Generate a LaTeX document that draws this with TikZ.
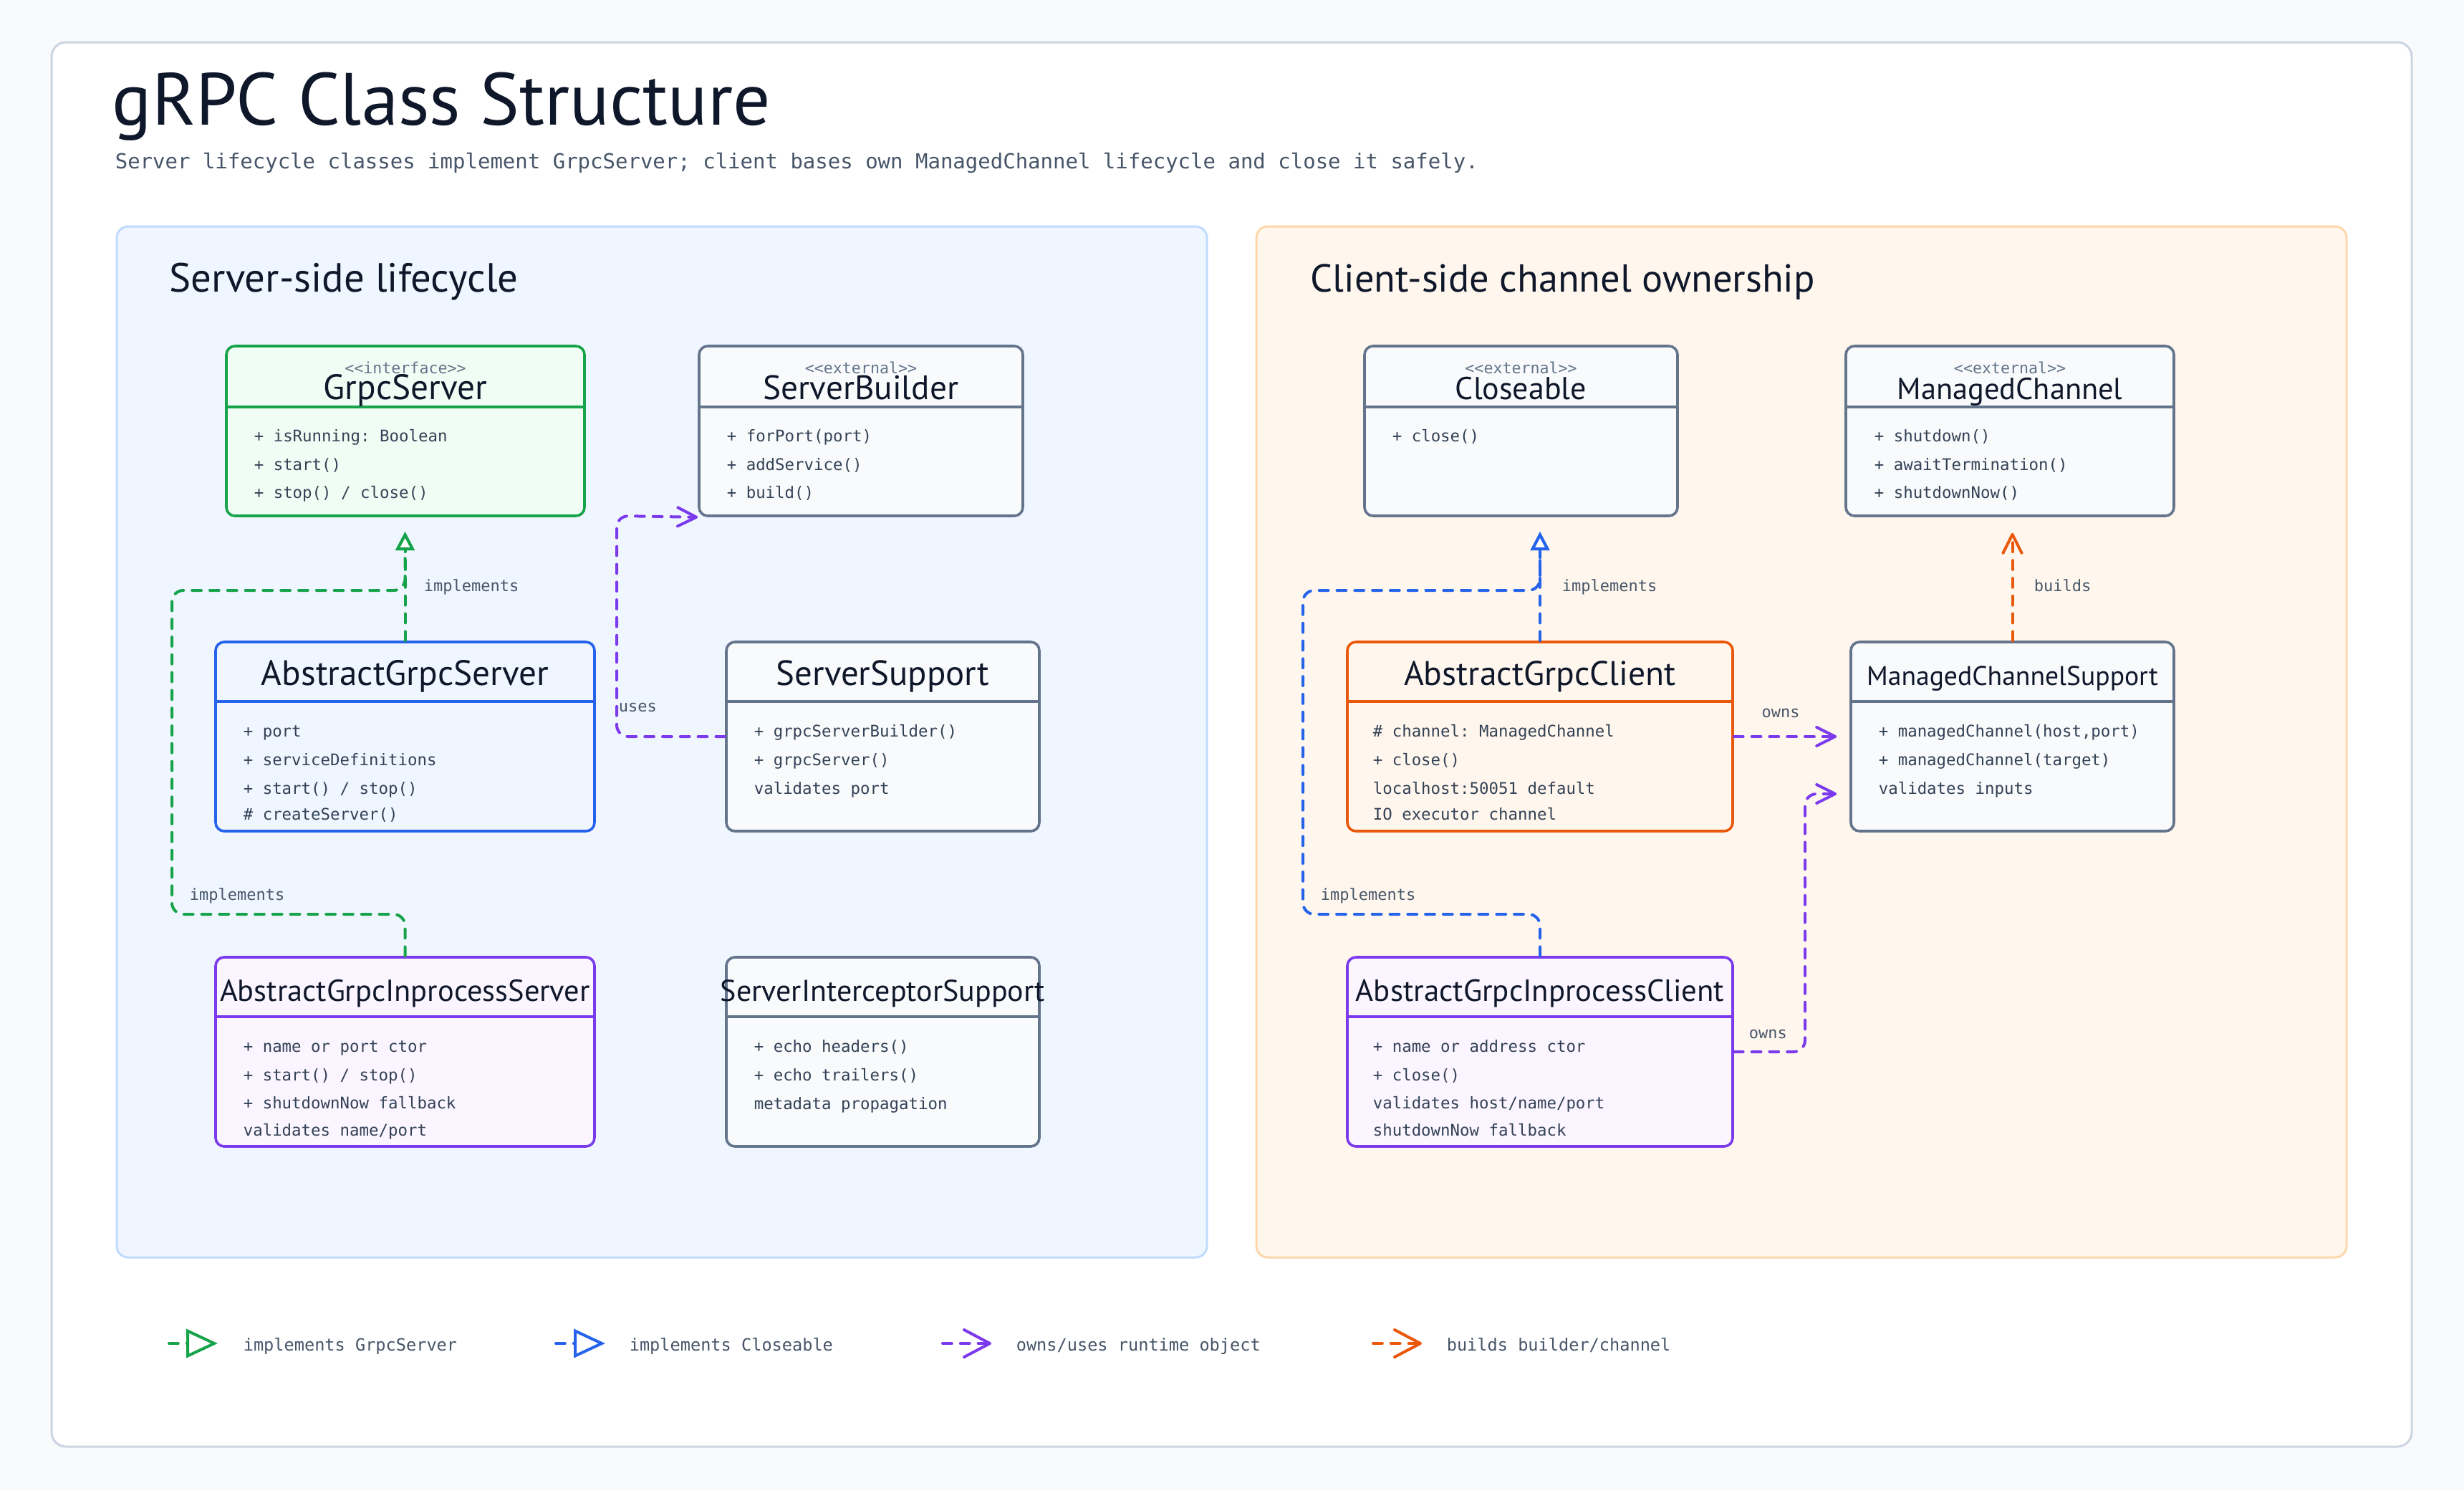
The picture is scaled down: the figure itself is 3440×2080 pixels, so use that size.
\documentclass[tikz,border=0pt]{standalone}
\usepackage{fontspec}
\setmainfont{PT Sans}
\setmonofont{DejaVu Sans Mono}
\usetikzlibrary{arrows.meta,fit}
\definecolor{pagebg}{HTML}{F8FAFC}
\definecolor{cardline}{HTML}{CBD5E1}
\definecolor{ink}{HTML}{0F172A}
\definecolor{memc}{HTML}{334155}
\definecolor{labc}{HTML}{475569}
\definecolor{slate}{HTML}{64748B}
\definecolor{cgreen}{HTML}{16A34A}
\definecolor{fgreen}{HTML}{F0FDF4}
\definecolor{cblue}{HTML}{2563EB}
\definecolor{fblue}{HTML}{EFF6FF}
\definecolor{cpurple}{HTML}{7C3AED}
\definecolor{fpurple}{HTML}{FAF5FF}
\definecolor{corange}{HTML}{EA580C}
\definecolor{forange}{HTML}{FFF7ED}
\definecolor{cgray}{HTML}{64748B}
\definecolor{fgray}{HTML}{F8FAFC}
\definecolor{pbline}{HTML}{BFDBFE}
\definecolor{poline}{HTML}{FED7AA}
\begin{document}
\begin{tikzpicture}[x=0.25pt,y=-0.25pt,
  cls/.style n args={2}{draw=#1, fill=#2, line width=0.9pt, rounded corners=3pt, inner sep=0pt},
  divider/.style={draw=#1, line width=0.9pt},
  clsname/.style={font=\fontsize{#1}{12pt}\selectfont, text=ink, inner sep=0pt, text height=0.7em, text depth=0pt},
  clsname/.default=11.5pt,
  stereo/.style={font=\ttfamily\fontsize{5.4pt}{6.5pt}\selectfont, text=slate, inner sep=0pt, text height=0.7em, text depth=0pt},
  mem/.style={font=\ttfamily\fontsize{5.6pt}{6.6pt}\selectfont, text=memc, inner sep=0pt, text height=0.7em, text depth=0pt, anchor=west},
  lbl/.style={font=\ttfamily\fontsize{5.5pt}{6.5pt}\selectfont, text=labc, inner sep=0pt, text height=0.7em, text depth=0pt, anchor=west},
  legtxt/.style={font=\ttfamily\fontsize{5.9pt}{7pt}\selectfont, text=labc, inner sep=0pt, text height=0.7em, text depth=0pt, anchor=west},
  conn/.style={line width=1pt, dash pattern=on 3.2pt off 3pt, line cap=round, line join=round, rounded corners=4pt},
  impl/.style={conn, draw=#1, -{Triangle[length=6.5pt,width=6.5pt,fill=white]}},
  own/.style={conn, draw=#1, -{Straight Barb[length=6.5pt,width=6.5pt,round]}},
]
% page and card
\fill[pagebg] (0,0) rectangle (3440,2080);
\useasboundingbox (0,0) rectangle (3440,2080);
\node[draw=cardline, fill=white, line width=0.75pt, rounded corners=5pt, inner sep=0pt, fit={(72,59) (3367,2019)}] (card) {};
\node[anchor=base west, inner sep=0pt, font=\fontsize{25.8pt}{29pt}\selectfont, text=ink] (title) at (156,174) {gRPC Class Structure};
\node[anchor=base west, inner sep=0pt, font=\ttfamily\fontsize{7.25pt}{9pt}\selectfont, text=labc] (subtitle) at (160,235) {Server lifecycle classes implement GrpcServer; client bases own ManagedChannel lifecycle and close it safely.};

% panels
\node[draw=pbline, fill=fblue, line width=0.75pt, rounded corners=4pt, inner sep=0pt, fit={(163,316) (1685,1755)}] (pserver) {};
\node[draw=poline, fill=forange, line width=0.75pt, rounded corners=4pt, inner sep=0pt, fit={(1754,316) (3276,1755)}] (pclient) {};
\node[anchor=west, inner sep=0pt, text height=0.7em, text depth=0pt, font=\fontsize{14.2pt}{16pt}\selectfont, text=ink] (pst) at (236,393) {Server-side lifecycle};
\node[anchor=west, inner sep=0pt, text height=0.7em, text depth=0pt, font=\fontsize{13.6pt}{16pt}\selectfont, text=ink] (pct) at (1829,393) {Client-side channel ownership};

% ---------- server side classes ----------
% GrpcServer
\node[cls={cgreen}{fgreen}, fit={(316,483) (816,720)}] (gs) {};
\draw[divider=cgreen] (316,568) -- (816,568);
\node[stereo] (gs-s) at (566,507) {<{}<interface>{}>};
\node[clsname=12.3pt] (gs-n) at (566,543) {GrpcServer};
\node[mem] (gs-m1) at (354,602) {+ isRunning: Boolean};
\node[mem] (gs-m2) at (354,642) {+ start()};
\node[mem] (gs-m3) at (354,681) {+ stop() / close()};

% ServerBuilder
\node[cls={cgray}{fgray}, fit={(976,483) (1428,720)}] (sb) {};
\draw[divider=cgray] (976,568) -- (1428,568);
\node[stereo] (sb-s) at (1202,507) {<{}<external>{}>};
\node[clsname=11.8pt] (sb-n) at (1202,543) {ServerBuilder};
\node[mem] (sb-m1) at (1014,602) {+ forPort(port)};
\node[mem] (sb-m2) at (1014,642) {+ addService()};
\node[mem] (sb-m3) at (1014,681) {+ build()};

% AbstractGrpcServer
\node[cls={cblue}{fblue}, fit={(301,896) (830,1160)}] (ags) {};
\draw[divider=cblue] (301,979) -- (830,979);
\node[clsname=12.3pt] (ags-n) at (565.5,942) {AbstractGrpcServer};
\node[mem] (ags-m1) at (339,1014) {+ port};
\node[mem] (ags-m2) at (339,1054) {+ serviceDefinitions};
\node[mem] (ags-m3) at (339,1094) {+ start() / stop()};
\node[mem] (ags-m4) at (339,1130) {\# createServer()};

% ServerSupport
\node[cls={cgray}{fgray}, fit={(1014,896) (1451,1160)}] (ss) {};
\draw[divider=cgray] (1014,979) -- (1451,979);
\node[clsname=12.2pt] (ss-n) at (1232.5,942) {ServerSupport};
\node[mem] (ss-m1) at (1052,1014) {+ grpcServerBuilder()};
\node[mem] (ss-m2) at (1052,1054) {+ grpcServer()};
\node[mem] (ss-m3) at (1052,1094) {validates port};

% AbstractGrpcInprocessServer
\node[cls={cpurple}{fpurple}, fit={(301,1336) (830,1600)}] (agis) {};
\draw[divider=cpurple] (301,1419) -- (830,1419);
\node[clsname=10.6pt] (agis-n) at (565.5,1383) {AbstractGrpcInprocessServer};
\node[mem] (agis-m1) at (339,1454) {+ name or port ctor};
\node[mem] (agis-m2) at (339,1494) {+ start() / stop()};
\node[mem] (agis-m3) at (339,1533) {+ shutdownNow fallback};
\node[mem] (agis-m4) at (339,1571) {validates name/port};

% ServerInterceptorSupport
\node[cls={cgray}{fgray}, fit={(1014,1336) (1451,1600)}] (sis) {};
\draw[divider=cgray] (1014,1419) -- (1451,1419);
\node[clsname=10.5pt] (sis-n) at (1232.5,1383) {ServerInterceptorSupport};
\node[mem] (sis-m1) at (1052,1454) {+ echo headers()};
\node[mem] (sis-m2) at (1052,1494) {+ echo trailers()};
\node[mem] (sis-m3) at (1052,1534) {metadata propagation};

% ---------- client side classes ----------
% Closeable
\node[cls={cgray}{fgray}, fit={(1905,483) (2342,720)}] (cl) {};
\draw[divider=cgray] (1905,568) -- (2342,568);
\node[stereo] (cl-s) at (2123.5,507) {<{}<external>{}>};
\node[clsname=11pt] (cl-n) at (2123.5,543) {Closeable};
\node[mem] (cl-m1) at (1943,602) {+ close()};

% ManagedChannel
\node[cls={cgray}{fgray}, fit={(2577,483) (3035,720)}] (mc) {};
\draw[divider=cgray] (2577,568) -- (3035,568);
\node[stereo] (mc-s) at (2806,507) {<{}<external>{}>};
\node[clsname=10.6pt] (mc-n) at (2806,543) {ManagedChannel};
\node[mem] (mc-m1) at (2616,602) {+ shutdown()};
\node[mem] (mc-m2) at (2616,642) {+ awaitTermination()};
\node[mem] (mc-m3) at (2616,681) {+ shutdownNow()};

% AbstractGrpcClient
\node[cls={corange}{forange}, fit={(1881,896) (2419,1160)}] (agc) {};
\draw[divider=corange] (1881,979) -- (2419,979);
\node[clsname=11.9pt] (agc-n) at (2150,942) {AbstractGrpcClient};
\node[mem] (agc-m1) at (1916,1014) {\# channel: ManagedChannel};
\node[mem] (agc-m2) at (1916,1054) {+ close()};
\node[mem] (agc-m3) at (1916,1094) {localhost:50051 default};
\node[mem] (agc-m4) at (1916,1130) {IO executor channel};

% ManagedChannelSupport
\node[cls={cgray}{fgray}, fit={(2584,896) (3035,1160)}] (mcs) {};
\draw[divider=cgray] (2584,979) -- (3035,979);
\node[clsname=9.4pt] (mcs-n) at (2809.5,942) {ManagedChannelSupport};
\node[mem] (mcs-m1) at (2622,1014) {+ managedChannel(host,port)};
\node[mem] (mcs-m2) at (2622,1054) {+ managedChannel(target)};
\node[mem] (mcs-m3) at (2622,1094) {validates inputs};

% AbstractGrpcInprocessClient
\node[cls={cpurple}{fpurple}, fit={(1881,1336) (2419,1600)}] (agic) {};
\draw[divider=cpurple] (1881,1419) -- (2419,1419);
\node[clsname=10.7pt] (agic-n) at (2150,1383) {AbstractGrpcInprocessClient};
\node[mem] (agic-m1) at (1916,1454) {+ name or address ctor};
\node[mem] (agic-m2) at (1916,1494) {+ close()};
\node[mem] (agic-m3) at (1916,1533) {validates host/name/port};
\node[mem] (agic-m4) at (1916,1571) {shutdownNow fallback};

% ---------- connectors ----------
\coordinate (gsT) at (565.5,720);
\coordinate (gA) at (565.5,1276);
\coordinate (gB) at (240,1276);
\coordinate (gC) at (240,824);
\coordinate (gD) at (565.5,824);
\draw[impl=cgreen, shorten >=5.5pt] (ags.north) -- (gsT);
\draw[impl=cgreen, shorten >=5.5pt] (agis.north) -- (gA) -- (gB) -- (gC) -- (gD) -- (gsT);
\node[lbl] (lab-i1) at (591,811) {implements};
\node[lbl] (lab-i2) at (264,1242) {implements};

\coordinate (uA) at (861,1028);
\coordinate (uB) at (861,720);
\draw[own=cpurple] (ss.west) -- (uA) -- (uB) -- (sb.south west);
\node[lbl] (lab-u) at (863,979) {uses};

\coordinate (clT) at (2150,720);
\coordinate (bA) at (2150,1276);
\coordinate (bB) at (1819,1276);
\coordinate (bC) at (1819,824);
\coordinate (bD) at (2150,824);
\draw[impl=cblue, shorten >=5.5pt] (agc.north) -- (clT);
\draw[impl=cblue, shorten >=5.5pt] (agic.north) -- (bA) -- (bB) -- (bC) -- (bD) -- (clT);
\node[lbl] (lab-i3) at (2180,811) {implements};
\node[lbl] (lab-i4) at (1843,1242) {implements};

\draw[own=corange, shorten >=5.5pt] (mcs.north) -- (mcs.north |- mc.south);
\node[lbl] (lab-b) at (2839,811) {builds};

\draw[own=cpurple, shorten >=4.5pt] (agc.east) -- (mcs.west);
\node[lbl, anchor=center] (lab-o1) at (2486,987) {owns};
\coordinate (oA) at (2520,1108);
\draw[own=cpurple, shorten >=4.5pt] (agic.east) -| (oA) -- (mcs.west |- oA);
\node[lbl] (lab-o2) at (2441,1435) {owns};

% ---------- legend ----------
\coordinate (lg1a) at (236,1875); \coordinate (lg1b) at (304,1875);
\draw[conn, draw=cgreen, -{Triangle[length=11pt,width=10pt,fill=white]}] (lg1a) -- (lg1b);
\node[legtxt] (lg1t) at (339,1871) {implements GrpcServer};
\coordinate (lg2a) at (776,1875); \coordinate (lg2b) at (845,1875);
\draw[conn, draw=cblue, -{Triangle[length=11pt,width=10pt,fill=white]}] (lg2a) -- (lg2b);
\node[legtxt] (lg2t) at (878,1871) {implements Closeable};
\coordinate (lg3a) at (1316,1875); \coordinate (lg3b) at (1384,1875);
\draw[conn, draw=cpurple, -{Straight Barb[length=9pt,width=9.5pt,round]}] (lg3a) -- (lg3b);
\node[legtxt] (lg3t) at (1418,1871) {owns/uses runtime object};
\coordinate (lg4a) at (1917,1875); \coordinate (lg4b) at (1985,1875);
\draw[conn, draw=corange, -{Straight Barb[length=9pt,width=9.5pt,round]}] (lg4a) -- (lg4b);
\node[legtxt] (lg4t) at (2019,1871) {builds builder/channel};
\end{tikzpicture}
\end{document}
